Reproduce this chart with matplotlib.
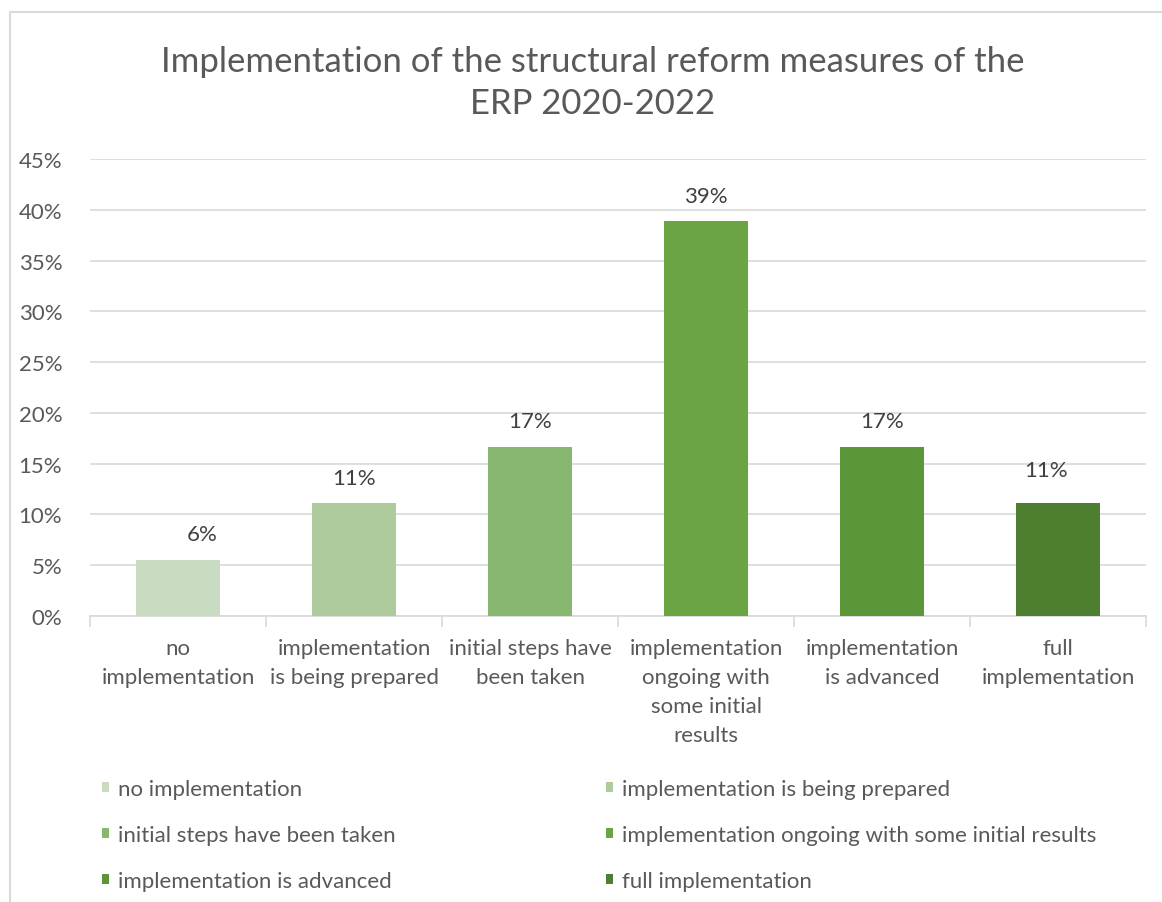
import matplotlib
matplotlib.use("Agg")
import matplotlib.pyplot as plt
from matplotlib.patches import Patch, Rectangle
from matplotlib.ticker import PercentFormatter

plt.rcParams["font.family"] = ["Lato", "DejaVu Sans"]

categories = [
    "no implementation",
    "implementation is being prepared",
    "initial steps have been taken",
    "implementation ongoing with some initial results",
    "implementation is advanced",
    "full implementation",
]
tick_labels = [
    "no\nimplementation",
    "implementation\nis being prepared",
    "initial steps have\nbeen taken",
    "implementation\nongoing with\nsome initial\nresults",
    "implementation\nis advanced",
    "full\nimplementation",
]
values = [5.56, 11.11, 16.67, 38.89, 16.67, 11.11]
value_labels = ["6%", "11%", "17%", "39%", "17%", "11%"]
colors = ["#C9DCC1", "#AECB9E", "#88B870", "#6BA543", "#5B9638", "#4E7F30"]

# label nudges (x in category units, y in points) as seen in the original
label_dx = [0.14, 0.0, 0.0, 0.0, 0.0, -0.07]
label_dy = [11, 11, 11, 11, 11, 17]

TEXT = "#595959"
GRID = "#D9D9D9"

fig = plt.figure(figsize=(11.62, 9.03), dpi=100)
fig.patch.set_facecolor("white")

# chart area frame
fig.patches.append(Rectangle((10 / 1162, -0.1), 1.2, 1 - 13 / 903 + 0.1,
                             transform=fig.transFigure, fill=False,
                             edgecolor=GRID, linewidth=1.5))

ax = fig.add_axes([90 / 1162, 1 - 617 / 903, (1146 - 90) / 1162, (617 - 160) / 903])
x = range(len(values))
bars = ax.bar(x, values, width=0.48, color=colors, zorder=3)

for i, (b, lab) in enumerate(zip(bars, value_labels)):
    ax.annotate(lab, (b.get_x() + b.get_width() / 2 + label_dx[i], b.get_height()),
                xytext=(0, label_dy[i]), textcoords="offset points",
                ha="center", va="bottom", fontsize=16, color="#404040")

ax.set_xlim(-0.5, len(values) - 0.5)
ax.set_ylim(0, 45)
ax.set_yticks(range(0, 46, 5))
ax.yaxis.set_major_formatter(PercentFormatter(decimals=0))
ax.grid(axis="y", color=GRID, linewidth=1.2, zorder=0)

ax.set_xticks(list(x))
ax.set_xticklabels(tick_labels, fontsize=16, color=TEXT, linespacing=1.55)
ax.set_xticks([i - 0.5 for i in range(len(values) + 1)], minor=True)
ax.tick_params(axis="x", which="major", length=0, pad=16)
ax.tick_params(axis="x", which="minor", length=8, color=GRID, width=1.2)
ax.tick_params(axis="y", length=0, pad=20, labelsize=16, labelcolor=TEXT)

for s in ["top", "right", "left"]:
    ax.spines[s].set_visible(False)
ax.spines["bottom"].set_color(GRID)
ax.spines["bottom"].set_linewidth(1.2)

fig.text(593 / 1162, 1 - 83 / 903,
         "Implementation of the structural reform measures of the\nERP 2020-2022",
         ha="center", va="center", fontsize=25, color=TEXT, linespacing=1.35)

handles = [Patch(facecolor=c, edgecolor="none") for c in colors]
for col, x0 in enumerate([102, 606]):
    idx = [col, col + 2, col + 4]
    leg = fig.legend([handles[i] for i in idx], [categories[i] for i in idx],
                     loc="upper left", bbox_to_anchor=(x0 / 1162, 1 - 780 / 903),
                     frameon=False, fontsize=16, labelcolor=TEXT,
                     handlelength=0.33, handleheight=0.33, handletextpad=0.4,
                     labelspacing=1.17, borderpad=0, borderaxespad=0)

fig.savefig("out.png", dpi=100, facecolor="white")
